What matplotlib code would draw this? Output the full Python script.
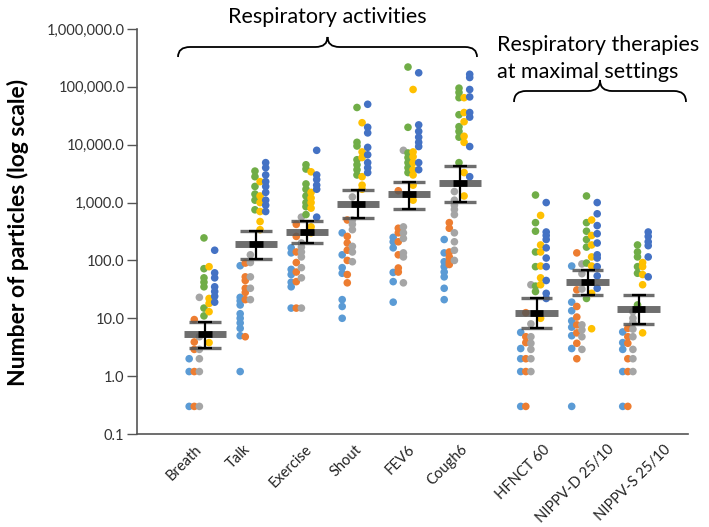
import matplotlib
matplotlib.use('Agg')
import matplotlib.pyplot as plt
import matplotlib.transforms as mtransforms
from matplotlib.path import Path
from matplotlib.patches import PathPatch
from matplotlib.ticker import FuncFormatter, NullLocator

plt.rcParams['font.family'] = ['Lato', 'DejaVu Sans']

# ── data ──────────────────────────────────────────────────────────────────────
categories = ['Breath', 'Talk', 'Exercise', 'Shout', 'FEV6', 'Cough6',
              'HFNCT 60', 'NIPPV-D 25/10', 'NIPPV-S 25/10']

# one list per subject, in order: light blue, orange, gray, green, yellow, dark blue
breath = [
    [2.0, 1.2, 0.3],
    [9.5, 3.9, 2.9, 1.2, 0.3],
    [23, 4.8, 2.9, 2.0, 1.2, 0.3],
    [245, 72, 50, 42, 35, 15, 11],
    [78, 22, 18, 13, 3.8],
    [150, 61, 50, 35, 29, 24, 19],
]
talk = [
    [81, 23, 20, 17, 12, 10, 8.3, 6.7, 5.0, 1.2],
    [90, 52, 45, 33, 28, 21, 4.8],
    [125, 92, 52, 33, 21],
    [3500, 2800, 1900, 1400, 1100, 750],
    [2300, 1300, 1000, 700, 470, 340],
    [4900, 4000, 3000, 2300, 1900, 1500, 1100, 900, 700],
]
exercise = [
    [165, 135, 70, 57, 42, 35, 15],
    [420, 260, 140, 92, 63, 43, 15],
    [560, 200, 170, 140, 115, 75, 50, 15],
    [4500, 3800, 2100, 1700, 1300, 1000, 850, 620],
    [3400, 1500, 1200, 1000, 800, 380, 300],
    [8000, 3000, 2500, 2000, 1700, 560],
]
shout = [
    [300, 125, 75, 60, 21, 16, 10],
    [500, 260, 200, 150, 100, 57, 41],
    [1250, 500, 420, 340, 175, 140, 95],
    [44000, 11000, 9500, 5500, 4500, 3700, 3000],
    [24000, 7500, 6000, 2800, 2000, 1700],
    [50000, 20000, 16000, 9000, 6700, 4900, 4000, 3300],
]
fev6 = [
    [250, 210, 165, 62, 43, 19],
    [1600, 360, 300, 210, 125, 74, 63],
    [8000, 380, 300, 240, 135, 115, 41],
    [220000, 20000, 7200, 6000, 4900, 4000, 3300],
    [90000, 7500, 6200, 4900, 3700, 3000, 2000, 1100],
    [175000, 22000, 17000, 13500, 11000, 9300, 4900, 3700],
]
cough6 = [
    [230, 135, 95, 78, 63, 52, 33, 21],
    [450, 360, 140, 115, 95, 85],
    [1550, 1100, 900, 760, 620, 300, 210, 150, 100],
    [95000, 80000, 65000, 33000, 20500, 17000, 13500, 4900],
    [65000, 36000, 25000, 14000, 11000, 3300, 1300],
    [165000, 145000, 90000, 67000, 36000, 30000, 9300, 2800],
]
hfnct = [
    [5.7, 3.0, 2.0, 1.2, 0.3],
    [12.5, 4.8, 3.8, 2.0, 1.2, 0.3],
    [38, 8, 4.8, 3.7, 2.9, 2.0, 1.2],
    [1350, 450, 320, 140, 78, 36, 29],
    [600, 185, 140, 80, 50, 38, 10],
    [1000, 310, 270, 230, 165, 110, 78, 45, 27, 22],
]
nippv_d = [
    [80, 19, 13.5, 9, 7, 5, 3, 0.3],
    [135, 31, 16, 10.5, 7.7, 5.6, 3.7, 2.0],
    [87, 59, 32, 7.7, 6.3, 4.8, 2.9],
    [1300, 450, 320, 230, 170, 90, 22],
    [500, 270, 185, 115, 80, 27, 6.6],
    [1000, 640, 400, 290, 200, 125, 110, 78, 54, 33],
]
nippv_s = [
    [5.8, 3.8, 2.9, 1.2, 0.3],
    [6.7, 4.8, 3.7, 2.0, 1.2, 0.3],
    [13, 10, 8.5, 6.5, 4.8, 2.9, 2.0, 1.2],
    [185, 140, 115, 78, 60, 17],
    [92, 78, 57, 38, 5.6],
    [310, 260, 210, 180, 115, 52],
]
all_groups = [breath, talk, exercise, shout, fev6, cough6, hfnct, nippv_d, nippv_s]

geo_mean = [5.4, 190, 310, 950, 1400, 2200, 12.5, 43, 14.5]
ci_upper = [8.7, 320, 480, 1670, 2300, 4300, 22, 69, 25]
ci_lower = [3.1, 105, 200, 550, 780, 1020, 6.7, 25, 8]

# ── layout / style ────────────────────────────────────────────────────────────
x_pos = [1, 2, 3, 4, 5, 6, 7.5, 8.5, 9.5]
label_pos = [0.80, 1.75, 2.96, 3.94, 4.98, 6.0, 7.62, 8.88, 10.0]
subject_colors = ['#5B9BD5', '#ED7D31', '#A5A5A5', '#70AD47', '#FFC000', '#4472C4']
subject_offset = [-0.31, -0.21, -0.11, -0.02, 0.08, 0.19]

fig = plt.figure(figsize=(7.09, 5.27), dpi=100)
ax = fig.add_axes([137 / 709, 1 - 434 / 527, (688 - 137) / 709, (434 - 29) / 527])

for xc, group in zip(x_pos, all_groups):
    for vals, col, off in zip(group, subject_colors, subject_offset):
        ax.scatter([xc + off] * len(vals), vals, s=30, color=col,
                   edgecolors='none', zorder=2)

for xc, m, lo, hi in zip(x_pos, geo_mean, ci_lower, ci_upper):
    ax.hlines(m, xc - 0.42, xc + 0.42, color='#555555', lw=5, alpha=0.85, zorder=3)
    ax.hlines([lo, hi], xc - 0.31, xc + 0.31, color='#555555', lw=2.4, alpha=0.85, zorder=3)
    ax.errorbar(xc, m, yerr=[[m - lo], [hi - m]], fmt='none', ecolor='black',
                elinewidth=1.6, capsize=5, capthick=1.6, zorder=4)
    ax.hlines(m, xc - 0.13, xc + 0.13, color='black', lw=4.8, zorder=5)

ax.set_yscale('log')
ax.set_ylim(0.1, 1e6)
ax.set_xlim(-0.333, 10.47)
ax.yaxis.set_major_formatter(FuncFormatter(lambda v, p: f'{v:,.1f}'))
ax.yaxis.set_minor_locator(NullLocator())
ax.set_xticks(label_pos)
ax.set_xticklabels(categories, rotation=45, ha='right', rotation_mode='anchor',
                   fontsize=10.5, color='#222222')
ax.tick_params(axis='x', length=0, pad=6)
ax.tick_params(axis='y', length=7, width=1, color='#555555', labelsize=10.5,
               labelcolor='#333333', pad=2)
for side in ('top', 'right'):
    ax.spines[side].set_visible(False)
for side in ('left', 'bottom'):
    ax.spines[side].set_color('#555555')
    ax.spines[side].set_linewidth(1.2)

fig.text(18 / 709, 1 - 232 / 527, 'Number of particles (log scale)', rotation=90,
         ha='center', va='center', fontsize=16.5, fontweight='bold')

# ── braces and group headings (pixel coords, origin top-left) ─────────────────
px = mtransforms.Affine2D().scale(1 / 709, -1 / 527).translate(0, 1) + fig.transFigure


def brace(x0, x1, y, h, r=12):
    xm = (x0 + x1) / 2
    verts = [(x0, y + h), (x0, y), (x0 + r, y),
             (xm - r, y), (xm, y), (xm, y - h),
             (xm, y), (xm + r, y),
             (x1 - r, y), (x1, y), (x1, y + h)]
    codes = [Path.MOVETO, Path.CURVE3, Path.CURVE3,
             Path.LINETO, Path.CURVE3, Path.CURVE3,
             Path.CURVE3, Path.CURVE3,
             Path.LINETO, Path.CURVE3, Path.CURVE3]
    fig.patches.append(PathPatch(Path(verts, codes), transform=px, fill=False,
                                 lw=1.3, edgecolor='black'))


brace(178, 477, 47, 10)
brace(514, 686, 91, 11)

fig.text(327, 17, 'Respiratory activities', transform=px, ha='center', va='center',
         fontsize=15.5)
fig.text(497, 45, 'Respiratory therapies', transform=px, ha='left', va='center',
         fontsize=15.5)
fig.text(497, 72, 'at maximal settings', transform=px, ha='left', va='center',
         fontsize=15.5)

fig.savefig('out.png', dpi=100)
